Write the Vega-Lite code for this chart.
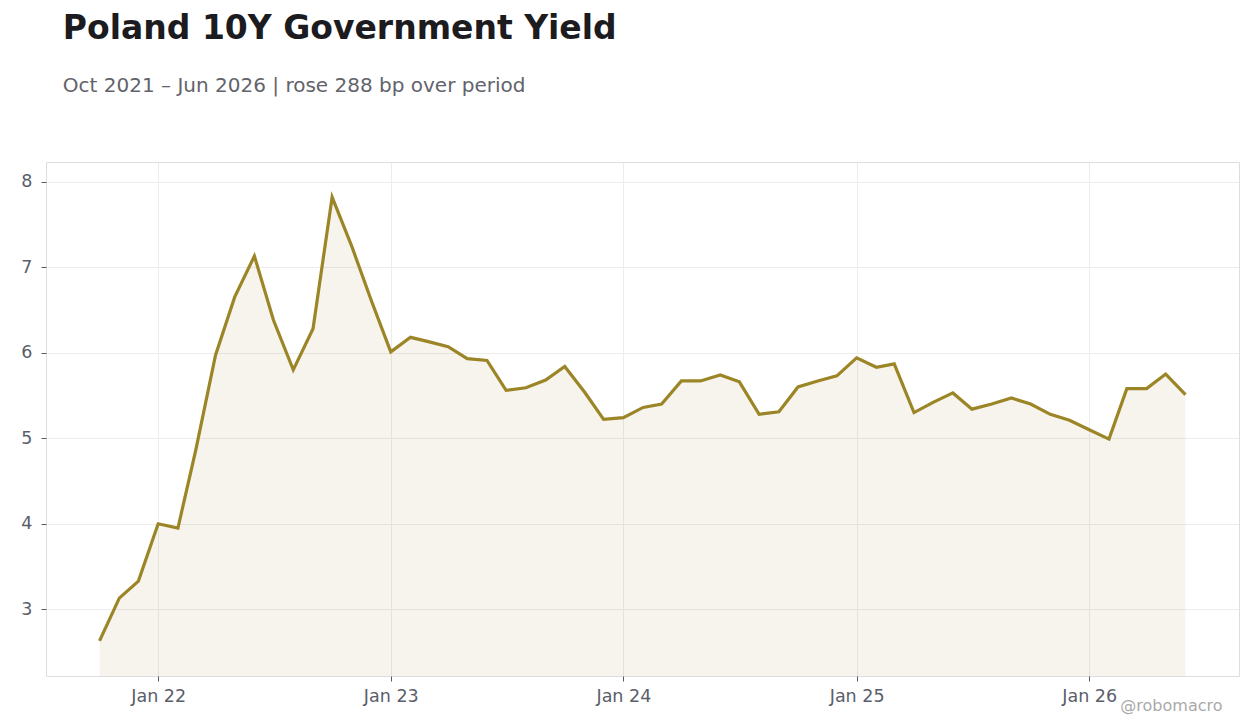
{
  "$schema": "https://vega.github.io/schema/vega-lite/v6.json",
  "width": 1193,
  "height": 514,
  "autosize": {"type": "none"},
  "padding": {"left": 46, "top": 162, "right": 21, "bottom": 52},
  "background": "white",
  "title": {
    "text": "Poland 10Y Government Yield",
    "subtitle": "Oct 2021 – Jun 2026 | rose 288 bp over period",
    "anchor": "start",
    "dx": 42,
    "offset": 66,
    "fontSize": 33,
    "fontWeight": "bold",
    "color": "#1b1b20",
    "subtitleFontSize": 20,
    "subtitleColor": "#62636b",
    "subtitlePadding": 30
  },
  "data": {
    "values": [
      {"date": "2021-10-01", "yield": 2.63},
      {"date": "2021-11-01", "yield": 3.13},
      {"date": "2021-12-01", "yield": 3.33},
      {"date": "2022-01-01", "yield": 4.0},
      {"date": "2022-02-01", "yield": 3.95},
      {"date": "2022-03-01", "yield": 4.86},
      {"date": "2022-04-01", "yield": 5.97},
      {"date": "2022-05-01", "yield": 6.65},
      {"date": "2022-06-01", "yield": 7.13},
      {"date": "2022-07-01", "yield": 6.38},
      {"date": "2022-08-01", "yield": 5.8},
      {"date": "2022-09-01", "yield": 6.28},
      {"date": "2022-10-01", "yield": 7.82},
      {"date": "2022-11-01", "yield": 7.24},
      {"date": "2022-12-01", "yield": 6.62},
      {"date": "2023-01-01", "yield": 6.01},
      {"date": "2023-02-01", "yield": 6.18},
      {"date": "2023-03-01", "yield": 6.13},
      {"date": "2023-04-01", "yield": 6.07},
      {"date": "2023-05-01", "yield": 5.93},
      {"date": "2023-06-01", "yield": 5.91},
      {"date": "2023-07-01", "yield": 5.56},
      {"date": "2023-08-01", "yield": 5.59},
      {"date": "2023-09-01", "yield": 5.68},
      {"date": "2023-10-01", "yield": 5.84},
      {"date": "2023-11-01", "yield": 5.54},
      {"date": "2023-12-01", "yield": 5.22},
      {"date": "2024-01-01", "yield": 5.24},
      {"date": "2024-02-01", "yield": 5.36},
      {"date": "2024-03-01", "yield": 5.4},
      {"date": "2024-04-01", "yield": 5.67},
      {"date": "2024-05-01", "yield": 5.67},
      {"date": "2024-06-01", "yield": 5.74},
      {"date": "2024-07-01", "yield": 5.66},
      {"date": "2024-08-01", "yield": 5.28},
      {"date": "2024-09-01", "yield": 5.31},
      {"date": "2024-10-01", "yield": 5.6},
      {"date": "2024-11-01", "yield": 5.67},
      {"date": "2024-12-01", "yield": 5.73},
      {"date": "2025-01-01", "yield": 5.94},
      {"date": "2025-02-01", "yield": 5.83},
      {"date": "2025-03-01", "yield": 5.87},
      {"date": "2025-04-01", "yield": 5.3},
      {"date": "2025-05-01", "yield": 5.42},
      {"date": "2025-06-01", "yield": 5.53},
      {"date": "2025-07-01", "yield": 5.34},
      {"date": "2025-08-01", "yield": 5.4},
      {"date": "2025-09-01", "yield": 5.47},
      {"date": "2025-10-01", "yield": 5.4},
      {"date": "2025-11-01", "yield": 5.28},
      {"date": "2025-12-01", "yield": 5.21},
      {"date": "2026-01-01", "yield": 5.1},
      {"date": "2026-02-01", "yield": 4.99},
      {"date": "2026-03-01", "yield": 5.58},
      {"date": "2026-04-01", "yield": 5.58},
      {"date": "2026-05-01", "yield": 5.75},
      {"date": "2026-06-01", "yield": 5.51}
    ]
  },
  "encoding": {
    "x": {
      "field": "date",
      "type": "temporal",
      "scale": {"domain": ["2021-07-09", "2026-08-24"]},
      "axis": {
        "format": "%b %y",
        "tickCount": {"interval": "year", "step": 1},
        "title": "@robomacro",
        "titleAnchor": "end",
        "titleAlign": "right",
        "titleBaseline": "alphabetic",
        "titleX": 1176,
        "titleY": 34,
        "titleColor": "#aaaaaa",
        "titleFontSize": 16,
        "titleFontWeight": "normal",
        "labelPadding": 6
      }
    },
    "y": {
      "field": "yield",
      "type": "quantitative",
      "scale": {"domain": [2.22, 8.23], "nice": false, "zero": false},
      "axis": {"title": null, "values": [3, 4, 5, 6, 7, 8], "labelPadding": 9}
    }
  },
  "layer": [
    {
      "mark": {"type": "area", "color": "#a08a2c", "opacity": 0.09, "clip": true}
    },
    {
      "mark": {"type": "line", "color": "#9c8526", "strokeWidth": 3.2}
    }
  ],
  "config": {
    "font": "DejaVu Sans",
    "view": {"stroke": "#dcdde2", "strokeWidth": 1},
    "axis": {
      "domain": false,
      "grid": true,
      "gridColor": "#ececec",
      "ticks": true,
      "tickColor": "#555a64",
      "tickSize": 5,
      "labelFontSize": 17.5,
      "labelColor": "#5a5e6a"
    }
  }
}
